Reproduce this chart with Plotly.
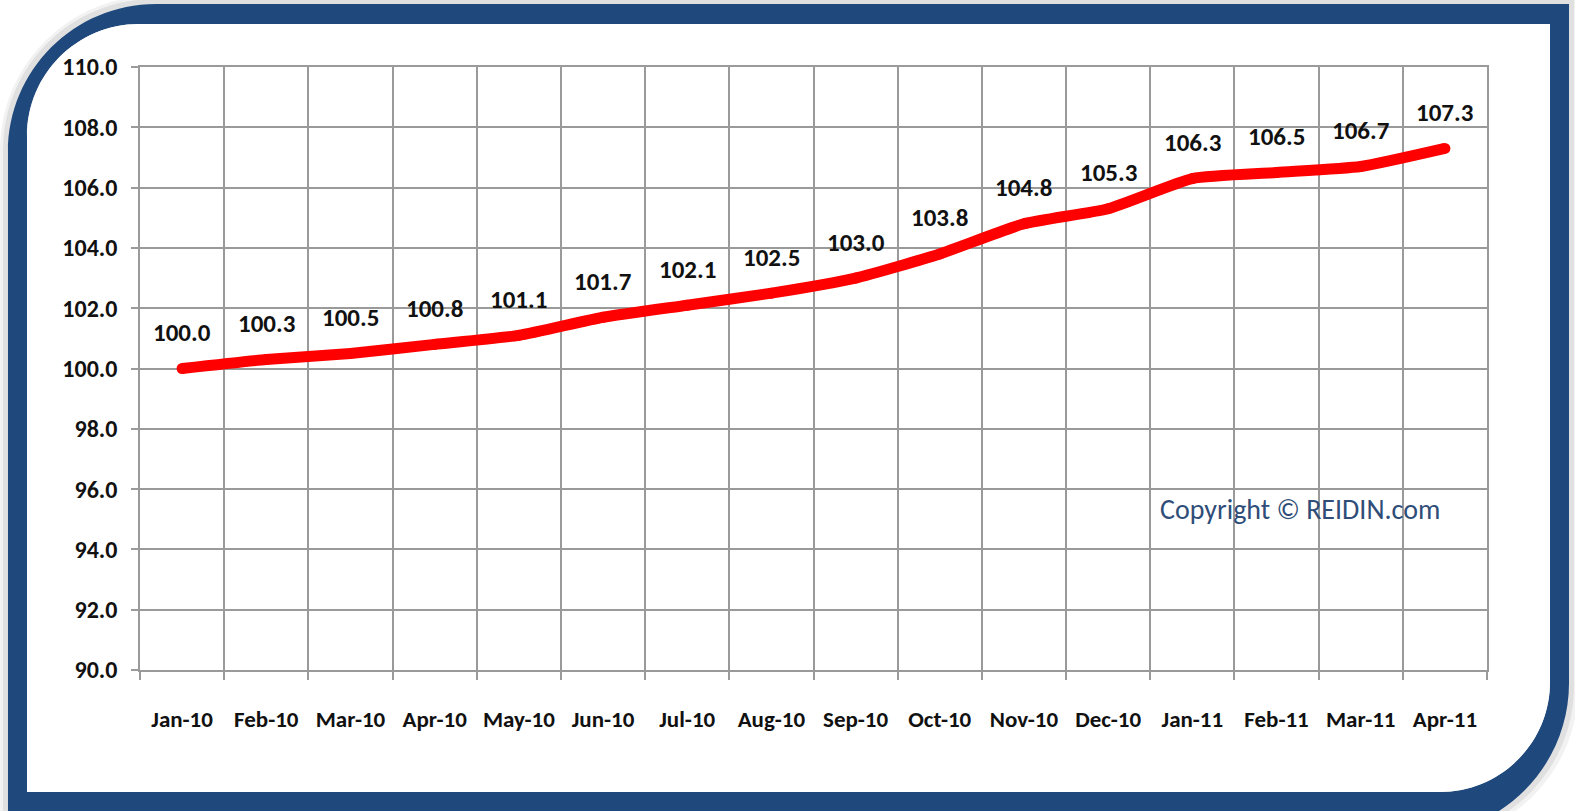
import plotly.graph_objects as go

months = ["Jan-10", "Feb-10", "Mar-10", "Apr-10", "May-10", "Jun-10", "Jul-10", "Aug-10",
          "Sep-10", "Oct-10", "Nov-10", "Dec-10", "Jan-11", "Feb-11", "Mar-11", "Apr-11"]
index_values = [100.0, 100.3, 100.5, 100.8, 101.1, 101.7, 102.1, 102.5,
                103.0, 103.8, 104.8, 105.3, 106.3, 106.5, 106.7, 107.3]
y_ticks = [90.0, 92.0, 94.0, 96.0, 98.0, 100.0, 102.0, 104.0, 106.0, 108.0, 110.0]
copyright_text = "Copyright © REIDIN.com"

W, H = 1575, 811
L, R, T, B = 140, 1487, 67, 670  # plot area in pixels

FONT = "Carlito, Calibri, Lato, sans-serif"
BLUE = "#1F497D"
GRID = "#9a9a9a"


def px(x):
    return (x - L) / (R - L)


def py(y):
    return (B - y) / (B - T)


def P(x, y):
    return f"{px(x):.5f},{py(y):.5f}"


K = 0.5523


def frame_path(x0, y0, x1, y1, r_tl, r_br):
    # rounded top-left & bottom-right corners, square others (pixel coords)
    k1 = r_tl * K
    k2 = r_br * K
    d = f"M {P(x0 + r_tl, y0)} L {P(x1, y0)} L {P(x1, y1 - r_br)} "
    d += f"C {P(x1, y1 - r_br + k2)} {P(x1 - r_br + k2, y1)} {P(x1 - r_br, y1)} "
    d += f"L {P(x0, y1)} L {P(x0, y0 + r_tl)} "
    d += f"C {P(x0, y0 + r_tl - k1)} {P(x0 + r_tl - k1, y0)} {P(x0 + r_tl, y0)} Z"
    return d


fig = go.Figure()
fig.add_trace(go.Scatter(
    x=months, y=index_values, mode="lines+markers",
    line=dict(color="#FF0000", width=11, shape="spline", smoothing=0.5),
    marker=dict(color="#FF0000", size=11),
    hoverinfo="skip", showlegend=False,
))

annotations = []
for m, v in zip(months, index_values):
    annotations.append(dict(
        x=m, y=v, xref="x", yref="y", text=f"{v:.1f}", showarrow=False,
        xanchor="center", yanchor="middle",
        yshift=36, font=dict(family=FONT, size=25, color="#111111", weight="bold"),
    ))
annotations.append(dict(
    x=px(1300), y=py(509), xref="paper", yref="paper", text=copyright_text,
    xanchor="center", yanchor="middle",
    showarrow=False, font=dict(family=FONT, size=28, color="#2F4D78"),
))

shapes = []
# soft shadow
shapes.append(dict(type="path", xref="paper", yref="paper", layer="below",
                   path=frame_path(0, -4, 1578, 840, 154, 152),
                   fillcolor="rgba(0,0,0,0.05)", line=dict(width=0)))
shapes.append(dict(type="path", xref="paper", yref="paper", layer="below",
                   path=frame_path(3, -1, 1574, 838, 151, 152),
                   fillcolor="rgba(0,0,0,0.07)", line=dict(width=0)))
# blue frame ring
outer = frame_path(8, 4, 1569, 835, 148, 152)
inner = frame_path(27, 24, 1550, 792, 112, 110)
shapes.append(dict(type="path", xref="paper", yref="paper", layer="below",
                   path=outer + " " + inner, fillrule="evenodd",
                   fillcolor=BLUE, line=dict(width=0)))
shapes.append(dict(type="path", xref="paper", yref="paper", layer="below",
                   path=inner, fillcolor="white", line=dict(width=0)))
# white box behind copyright
shapes.append(dict(type="rect", xref="paper", yref="paper", layer="between",
                   x0=px(1140), x1=px(1480), y0=py(509), y1=py(475),
                   fillcolor="white", line=dict(width=0)))

fig.update_layout(
    width=W, height=H,
    margin=dict(l=L, r=W - R, t=T, b=H - B, pad=0, autoexpand=False),
    paper_bgcolor="white", plot_bgcolor="rgba(0,0,0,0)",
    annotations=annotations, shapes=shapes,
    font=dict(family=FONT, color="#111111"),
)
fig.update_xaxes(
    type="category", tickson="boundaries", ticks="outside", ticklen=8,
    tickcolor=GRID, tickwidth=1.5, tickangle=0,
    showgrid=True, gridcolor=GRID, gridwidth=1.5,
    showline=True, linecolor=GRID, linewidth=1.5, mirror=True,
    tickfont=dict(family=FONT, size=23, color="#111111", weight="bold"),
    ticklabelstandoff=28, range=[-0.5, 15.5], automargin=False,
)
fig.update_yaxes(
    range=[90, 110], tickvals=y_ticks, ticktext=[f"{t:.1f}" for t in y_ticks],
    ticks="outside", ticklen=7, tickcolor=GRID, tickwidth=1.5,
    showgrid=True, gridcolor=GRID, gridwidth=1.5,
    showline=True, linecolor=GRID, linewidth=1.5, mirror=True, zeroline=False,
    tickfont=dict(family=FONT, size=24, color="#111111", weight="bold"),
    ticklabelstandoff=9, automargin=False,
)

fig.write_html("out.html", config={"displayModeBar": False},
               post_script="document.body.style.margin='0';document.body.style.overflow='hidden';")
